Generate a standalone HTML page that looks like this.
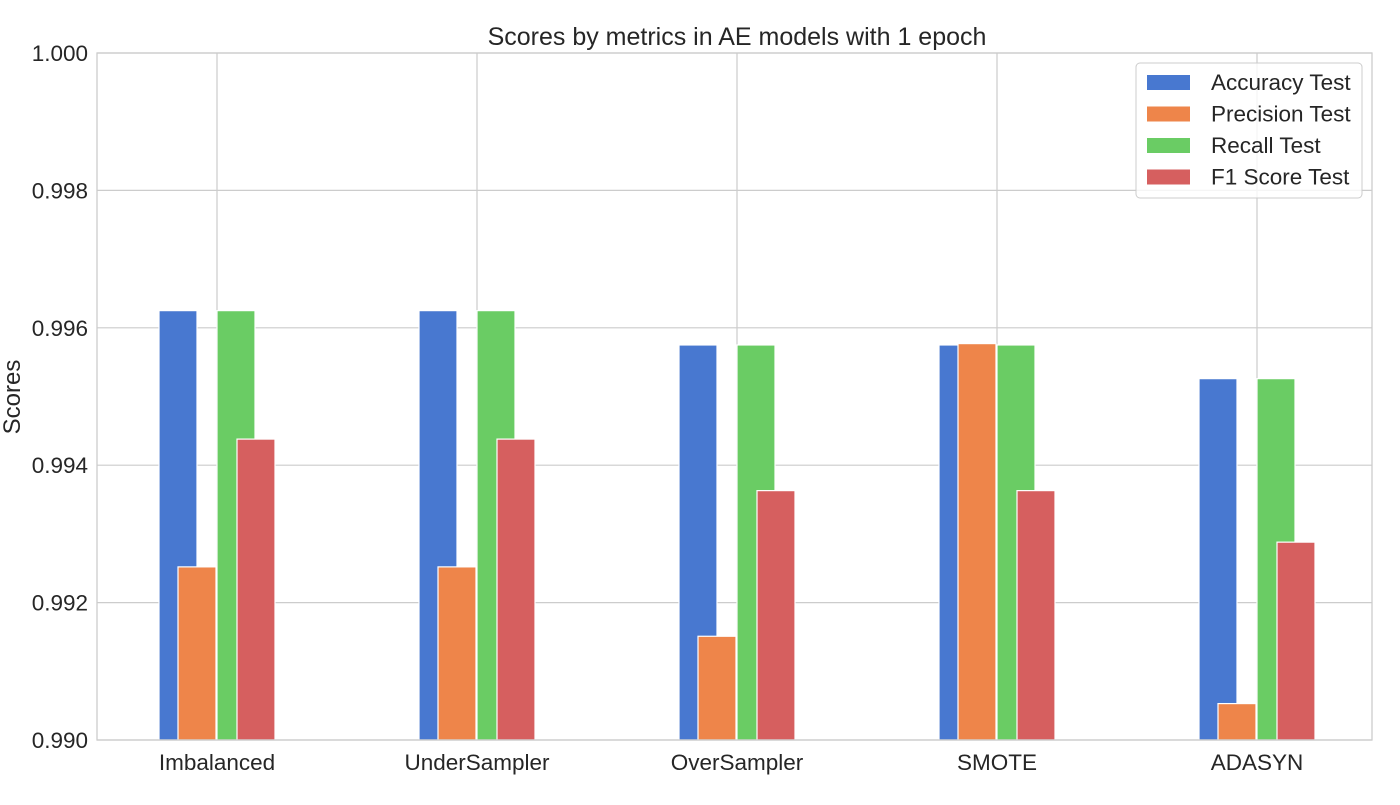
<!DOCTYPE html>
<html><head><meta charset="utf-8"><style>
body{margin:0;background:#fff}
svg text{font-family:"Liberation Sans","DejaVu Sans",sans-serif;fill:#262626}
</style></head><body>
<svg id="chart" width="1400" height="800">
<g id="grid"></g>
<g id="bars"></g>
<rect x="97" y="53" width="1275" height="687" fill="none" stroke="#cccccc" stroke-width="1.3"/>
<g id="ticks"></g>
<text x="737" y="45" font-size="25" text-anchor="middle">Scores by metrics in AE models with 1 epoch</text>
<text transform="translate(20,397) rotate(-90)" font-size="24" text-anchor="middle">Scores</text>
<g id="legend"></g>
</svg>
<script>
const categories=["Imbalanced","UnderSampler","OverSampler","SMOTE","ADASYN"];
const seriesNames=["Accuracy Test","Precision Test","Recall Test","F1 Score Test"];
const accuracy=[0.99625,0.99625,0.99575,0.99575,0.99526];
const precision=[0.99252,0.99252,0.99151,0.99577,0.99053];
const recall=[0.99625,0.99625,0.99575,0.99575,0.99526];
const f1=[0.99438,0.99438,0.99363,0.99363,0.99288];
const yTicks=["0.990","0.992","0.994","0.996","0.998","1.000"];
const colors=["#4878d0","#ee854a","#6acc64","#d65f5f"];
const series=[accuracy,precision,recall,f1];
const NS="http://www.w3.org/2000/svg";
const yMin=0.99,yMax=1.0,plotTop=53,plotBot=740;
const y=v=>plotBot-(v-yMin)/(yMax-yMin)*(plotBot-plotTop);
const x=i=>217+i*260;
const offs=[-39,-20,19,39],bw=38;
function mk(t,a,p){const e=document.createElementNS(NS,t);for(const k in a)e.setAttribute(k,a[k]);p.appendChild(e);return e;}
const grid=document.getElementById('grid'),ticks=document.getElementById('ticks'),bars=document.getElementById('bars'),leg=document.getElementById('legend');
yTicks.forEach(t=>{const yy=y(parseFloat(t));
 const l=mk('line',{x1:97,x2:1372,y1:yy,y2:yy,stroke:'#cccccc','stroke-width':1.2},grid);
 
 
 const tx=mk('text',{x:88,y:yy+8,'font-size':22.5,'text-anchor':'end'},ticks);tx.textContent=t;
 
 
});
categories.forEach((c,i)=>{
 const l=mk('line',{x1:x(i),x2:x(i),y1:plotTop,y2:plotBot,stroke:'#cccccc','stroke-width':1.2},grid);
 
 
 const tx=mk('text',{x:x(i),y:770,'font-size':22.5,'text-anchor':'middle'},ticks);tx.textContent=c;
 
 
});
series.forEach((s,j)=>{s.forEach((v,i)=>{
 const r=mk('rect',{x:x(i)+offs[j]-bw/2,y:y(v),width:bw,height:plotBot-y(v),fill:colors[j],stroke:'#fff','stroke-width':1.2},bars);
 
 
});});
const box=mk('rect',{x:1136,y:63,width:226,height:135,fill:'#fff','fill-opacity':0.8,stroke:'#cccccc',rx:4},leg);


seriesNames.forEach((n,j)=>{const yy=82+j*31.5;
 const p=mk('rect',{x:1147,y:yy-7,width:43,height:15,fill:colors[j]},leg);
 
 
 const t=mk('text',{x:1211,y:yy+8,'font-size':22.5,'text-anchor':'start'},leg);t.textContent=n;
 
 
});
</script>
</body></html>
